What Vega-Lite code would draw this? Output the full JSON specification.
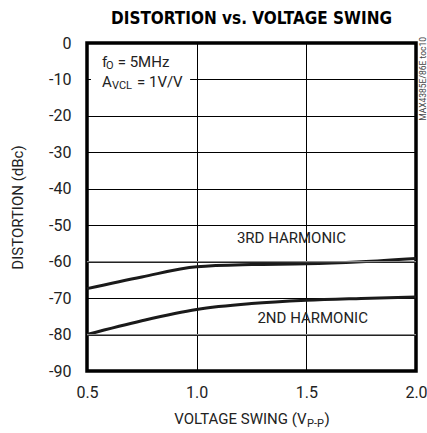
{
  "$schema": "https://vega.github.io/schema/vega-lite/v6.json",
  "autosize": {"type": "none"},
  "width": 329,
  "height": 328,
  "padding": {"left": 87, "top": 43, "right": 11, "bottom": 62},
  "background": "white",
  "title": {
    "text": "DISTORTION vs. VOLTAGE SWING",
    "font": "DejaVu Sans Condensed",
    "fontSize": 17,
    "fontWeight": "bold",
    "color": "black",
    "baseline": "alphabetic",
    "offset": 3,
    "dy": 9,
    "anchor": "middle"
  },
  "config": {
    "view": {"stroke": "black", "strokeWidth": 3.5},
    "font": "Roboto",
    "axis": {
      "labelFont": "Roboto",
      "titleFont": "Roboto",
      "labelFontSize": 16,
      "titleFontSize": 16,
      "labelColor": "#222",
      "titleColor": "#222",
      "titleFontWeight": "normal",
      "domain": false,
      "ticks": false,
      "labelFlush": false,
      "labelOverlap": false
    }
  },
  "datasets": {
    "curves": [
      {"swing": 0.5, "dist": -67.4, "series": "3RD"},
      {"swing": 0.75, "dist": -64.2, "series": "3RD"},
      {"swing": 1.0, "dist": -61.4, "series": "3RD"},
      {"swing": 1.25, "dist": -60.8, "series": "3RD"},
      {"swing": 1.5, "dist": -60.6, "series": "3RD"},
      {"swing": 1.75, "dist": -60.0, "series": "3RD"},
      {"swing": 2.0, "dist": -59.1, "series": "3RD"},
      {"swing": 0.5, "dist": -80.0, "series": "2ND"},
      {"swing": 0.75, "dist": -76.2, "series": "2ND"},
      {"swing": 1.0, "dist": -73.1, "series": "2ND"},
      {"swing": 1.25, "dist": -71.5, "series": "2ND"},
      {"swing": 1.5, "dist": -70.6, "series": "2ND"},
      {"swing": 1.75, "dist": -70.1, "series": "2ND"},
      {"swing": 2.0, "dist": -69.7, "series": "2ND"}
    ],
    "one": [{}]
  },
  "layer": [
    {
      "data": {"name": "curves"},
      "mark": {"type": "line", "color": "#1a1a1a", "strokeWidth": 3, "interpolate": "monotone"},
      "encoding": {
        "x": {
          "field": "swing", "type": "quantitative",
          "scale": {"domain": [0.5, 2.0], "nice": false, "zero": false},
          "axis": {
            "values": [0.5, 1.0, 1.5, 2.0],
            "tickCount": 10,
            "format": ".1f",
            "labelPadding": 13,
            "gridColor": "black",
            "gridOpacity": 1,
            "gridWidth": 1,
            "title": null
          }
        },
        "y": {
          "field": "dist", "type": "quantitative",
          "scale": {"domain": [-90, 0], "nice": false, "zero": false},
          "axis": {
            "values": [-90, -80, -70, -60, -50, -40, -30, -20, -10, 0],
            "tickCount": 20,
            "labelExpr": "'' + datum.value",
            "labelPadding": 16,
            "gridColor": "black",
            "gridOpacity": 1,
            "gridWidth": 1,
            "title": "DISTORTION (dBc)",
            "titleX": -70,
            "titleY": 164,
            "titleAngle": -90,
            "titleAlign": "center",
            "titleBaseline": "middle",
            "titleFontSize": 15
          }
        },
        "detail": {"field": "series"}
      }
    },
    {
      "data": {"name": "one"},
      "mark": {"type": "rule", "color": "#8a8a8a", "strokeWidth": 1.3},
      "encoding": {"y": {"datum": -60}}
    },
    {
      "data": {"name": "one"},
      "mark": {"type": "rule", "color": "#8a8a8a", "strokeWidth": 1.3},
      "encoding": {"y": {"datum": -80}}
    },
    {
      "data": {"name": "one"},
      "mark": {"type": "rect", "color": "white"},
      "encoding": {
        "x": {"datum": 0.518},
        "x2": {"datum": 0.97},
        "y": {"datum": -8.5},
        "y2": {"datum": -11.5}
      }
    },
    {
      "data": {"name": "one"},
      "mark": {"type": "text", "text": "3RD HARMONIC", "fontSize": 15, "color": "#222", "align": "center", "baseline": "middle"},
      "encoding": {"x": {"datum": 1.432}, "y": {"datum": -53.6}}
    },
    {
      "data": {"name": "one"},
      "mark": {"type": "text", "text": "2ND HARMONIC", "fontSize": 15, "color": "#222", "align": "center", "baseline": "middle"},
      "encoding": {"x": {"datum": 1.529}, "y": {"datum": -75.5}}
    },
    {
      "data": {"name": "one"},
      "mark": {"type": "text", "text": "f", "fontSize": 15, "color": "#222", "align": "left", "baseline": "alphabetic", "dx": 15},
      "encoding": {"x": {"datum": 0.5}, "y": {"datum": -6.5}}
    },
    {
      "data": {"name": "one"},
      "mark": {"type": "text", "text": "O", "fontSize": 11, "color": "#222", "align": "left", "baseline": "alphabetic", "dx": 19, "dy": 2.6},
      "encoding": {"x": {"datum": 0.5}, "y": {"datum": -6.5}}
    },
    {
      "data": {"name": "one"},
      "mark": {"type": "text", "text": "= 5MHz", "fontSize": 15, "color": "#222", "align": "left", "baseline": "alphabetic", "dx": 30.7},
      "encoding": {"x": {"datum": 0.5}, "y": {"datum": -6.5}}
    },
    {
      "data": {"name": "one"},
      "mark": {"type": "text", "text": "A", "fontSize": 15, "color": "#222", "align": "left", "baseline": "alphabetic", "dx": 15},
      "encoding": {"x": {"datum": 0.5}, "y": {"datum": -12.0}}
    },
    {
      "data": {"name": "one"},
      "mark": {"type": "text", "text": "VCL", "fontSize": 11, "color": "#222", "align": "left", "baseline": "alphabetic", "dx": 25, "dy": 2.6},
      "encoding": {"x": {"datum": 0.5}, "y": {"datum": -12.0}}
    },
    {
      "data": {"name": "one"},
      "mark": {"type": "text", "text": "= 1V/V", "fontSize": 15, "color": "#222", "align": "left", "baseline": "alphabetic", "dx": 50},
      "encoding": {"x": {"datum": 0.5}, "y": {"datum": -12.0}}
    },
    {
      "data": {"name": "one"},
      "mark": {"type": "text", "text": "VOLTAGE SWING (V", "fontSize": 15, "color": "#222", "align": "right", "baseline": "alphabetic", "dx": 55, "dy": 53},
      "encoding": {"x": {"datum": 1.25}, "y": {"datum": -90}}
    },
    {
      "data": {"name": "one"},
      "mark": {"type": "text", "text": "P-P", "fontSize": 11, "color": "#222", "align": "left", "baseline": "alphabetic", "dx": 55.5, "dy": 56},
      "encoding": {"x": {"datum": 1.25}, "y": {"datum": -90}}
    },
    {
      "data": {"name": "one"},
      "mark": {"type": "text", "text": ")", "fontSize": 15, "color": "#222", "align": "left", "baseline": "alphabetic", "dx": 73, "dy": 53},
      "encoding": {"x": {"datum": 1.25}, "y": {"datum": -90}}
    },
    {
      "data": {"name": "one"},
      "mark": {"type": "text", "text": "MAX4385E/86E toc10", "fontSize": 8.5, "color": "#444", "angle": 270, "align": "right", "baseline": "top", "dx": 6, "dy": 3},
      "encoding": {"x": {"datum": 2.0}, "y": {"datum": 0}}
    }
  ]
}
